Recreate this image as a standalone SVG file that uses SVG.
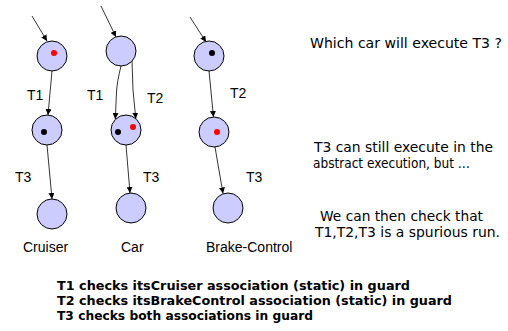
<svg xmlns="http://www.w3.org/2000/svg" width="508" height="331" viewBox="0 0 508 331">
<style>
.st{fill:#ccccff;stroke:#000;stroke-width:1}
.ln{fill:none;stroke:#000;stroke-width:0.8;marker-end:url(#ah)}
.lbl{font-family:"Liberation Sans",Arial,sans-serif;font-size:14px;fill:#000}
.cm{font-family:"Comic Sans MS","DejaVu Sans",sans-serif;font-size:14px;fill:#000}
.bd{font-family:"Comic Sans MS","DejaVu Sans",sans-serif;font-size:12.5px;font-weight:bold;fill:#000}
</style>
<defs>
<marker id="ah" viewBox="0 0 10 10" refX="10" refY="5" markerWidth="6" markerHeight="6" markerUnits="userSpaceOnUse" orient="auto">
<path d="M0,0 L10,5 L0,10 z" fill="#000"/>
</marker>
</defs>
<rect width="508" height="331" fill="#fff"/>
<g id="connectors">
<line class="ln" x1="32" y1="16" x2="47" y2="41"/>
<line class="ln" x1="52" y1="71" x2="48" y2="115"/>
<line class="ln" x1="47" y1="145" x2="52" y2="199"/>
<line class="ln" x1="101" y1="6" x2="116" y2="37"/>
<path class="ln" d="M121,66 Q117,82 116.5,92 L115.3,119"/>
<path class="ln" d="M132,61 L133,90 L135.8,118.8"/>
<line class="ln" x1="126" y1="145" x2="130" y2="193"/>
<line class="ln" x1="190" y1="17" x2="206" y2="42"/>
<line class="ln" x1="209" y1="71" x2="213.5" y2="117"/>
<line class="ln" x1="215" y1="147" x2="223" y2="193.5"/>
</g>
<g id="cruiser-1"><circle class="st" cx="52" cy="56" r="15"/><circle cx="54" cy="53" r="3" fill="#ff0000"/></g>
<g id="cruiser-2"><circle class="st" cx="47" cy="130" r="15"/><circle cx="44" cy="132" r="3" fill="#000"/></g>
<g id="cruiser-3"><circle class="st" cx="52" cy="214" r="15"/></g>
<g id="car-1"><circle class="st" cx="121" cy="51" r="15"/></g>
<g id="car-2"><circle class="st" cx="126" cy="130" r="15"/><circle cx="118" cy="132" r="3" fill="#000"/><circle cx="133" cy="127" r="3" fill="#ff0000"/></g>
<g id="car-3"><circle class="st" cx="131" cy="208" r="15"/></g>
<g id="brake-1"><circle class="st" cx="209" cy="56" r="15"/><circle cx="212" cy="53" r="3" fill="#000"/></g>
<g id="brake-2"><circle class="st" cx="214" cy="132" r="15"/><circle cx="217" cy="132" r="3" fill="#ff0000"/></g>
<g id="brake-3"><circle class="st" cx="228" cy="208" r="15"/></g>
<g id="labels">
<text class="lbl" x="27" y="100">T1</text>
<text class="lbl" x="87" y="100">T1</text>
<text class="lbl" x="147" y="103">T2</text>
<text class="lbl" x="230" y="98">T2</text>
<text class="lbl" x="15" y="182">T3</text>
<text class="lbl" x="143" y="182">T3</text>
<text class="lbl" x="246" y="182">T3</text>
<text class="lbl" x="23" y="252">Cruiser</text>
<text class="lbl" x="121" y="252">Car</text>
<text class="lbl" x="206" y="252">Brake-Control</text>
</g>
<g id="notes">
<text class="cm" x="310" y="48" textLength="192" lengthAdjust="spacingAndGlyphs">Which car will execute T3 ?</text>
<text class="cm" x="314" y="152" textLength="179" lengthAdjust="spacingAndGlyphs">T3 can still execute in the</text>
<text class="cm" x="313" y="168" textLength="157" lengthAdjust="spacingAndGlyphs">abstract execution, but …</text>
<text class="cm" x="320" y="221" textLength="163" lengthAdjust="spacingAndGlyphs">We can then check that</text>
<text class="cm" x="315" y="237" textLength="185" lengthAdjust="spacingAndGlyphs">T1,T2,T3 is a spurious run.</text>
<text class="bd" x="57" y="290" textLength="353" lengthAdjust="spacingAndGlyphs">T1 checks itsCruiser association (static) in guard</text>
<text class="bd" x="57" y="305" textLength="395" lengthAdjust="spacingAndGlyphs">T2 checks itsBrakeControl association (static) in guard</text>
<text class="bd" x="57" y="320" textLength="256" lengthAdjust="spacingAndGlyphs">T3 checks both associations in guard</text>
</g>
</svg>
